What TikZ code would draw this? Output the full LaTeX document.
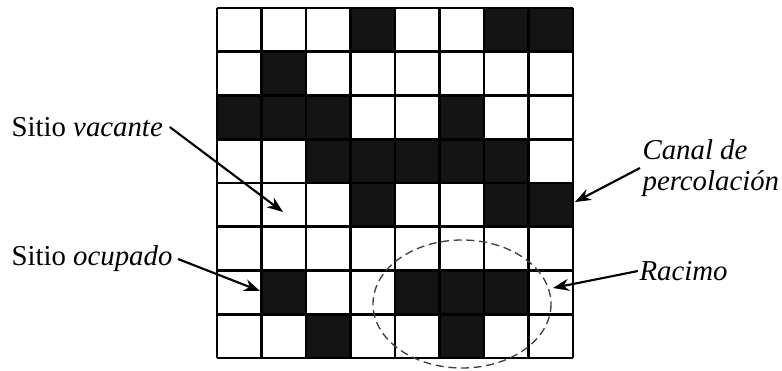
\documentclass[tikz,border=0pt]{standalone}
\usepackage{fontspec}
\setmainfont{Liberation Serif}
\usetikzlibrary{arrows.meta}
\tikzset{
  lbl/.style={inner sep=1pt, font=\fontsize{21.6}{23.5}\selectfont},
  arr/.style={line width=1.6pt, -{Stealth[length=12pt,width=9pt]}},
  gridline/.style={line width=1.9pt}
}
\begin{document}
\begin{tikzpicture}[x=0.75pt,y=0.75pt,yscale=-1,xscale=1]
\useasboundingbox (0,0) rectangle (782,371);

% occupied sites (row/column)
\foreach \r/\c in {1/4,1/7,1/8, 2/2, 3/1,3/2,3/3,3/6, 4/3,4/4,4/5,4/6,4/7,
                   5/4,5/7,5/8, 7/2,7/5,7/6,7/7, 8/3,8/6}
  \fill[black!92] ({217+(\c-1)*44.5},{8+(\r-1)*43.75}) rectangle ++(44.5,43.75);

% lattice
\foreach \i in {0,...,8} {
  \draw[gridline] ({217+\i*44.5},8) -- ({217+\i*44.5},358);
  \draw[gridline] (217,{8+\i*43.75}) -- (573,{8+\i*43.75});
}

% cluster
\draw[dash pattern=on 6pt off 3.5pt, line width=1pt, black!75] (462,304) ellipse [x radius=89, y radius=64];

% labels
\node[lbl, anchor=west] (vacante) at (10,127) {Sitio \textit{vacante}};
\node[lbl, anchor=west] (ocupado) at (10,259) {Sitio \textit{ocupado}};
\node[lbl, anchor=west, align=left] (canal) at (641,168) {\textit{Canal de}\\\textit{percolación}};
\node[lbl, anchor=west] (racimo) at (638,271) {\textit{Racimo}};

\coordinate (vacantetip) at (283,212);
\coordinate (ocupadotip) at (260,291);
\coordinate (canalfrom) at (640,168);
\coordinate (canaltip) at (575,202);
\coordinate (racimotip) at (553,288);

% arrows
\draw[arr] ([xshift=4pt]vacante.east) -- (vacantetip);
\draw[arr] ([xshift=3pt]ocupado.east) -- (ocupadotip);
\draw[arr] (canalfrom) -- (canaltip);
\draw[arr] (racimo.west) -- (racimotip);

\end{tikzpicture}
\end{document}
